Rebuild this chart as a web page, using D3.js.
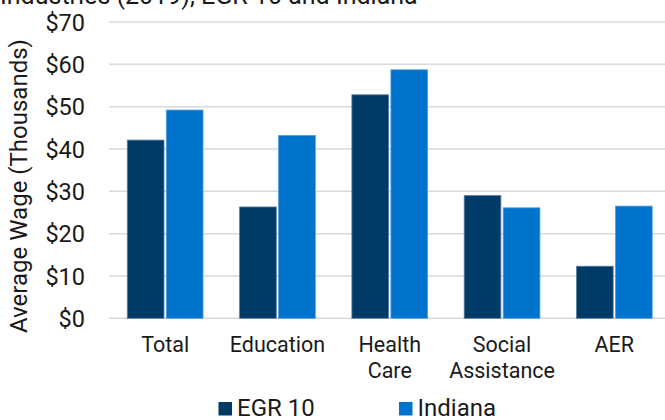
<!DOCTYPE html>
<html>
<head>
<meta charset="utf-8">
<script src="https://cdn.jsdelivr.net/npm/d3@7"></script>
<style>
  html, body { margin: 0; padding: 0; background: #fff; }
  svg { display: block; }
  text { font-family: Roboto, "Liberation Sans", sans-serif; fill: #1a1a1a; }
</style>
</head>
<body>
<svg id="chart" width="665" height="420"></svg>
<script>
// Average wage by industry, EGR 10 vs Indiana (thousands of dollars)
const categories = [["Total"], ["Education"], ["Health", "Care"], ["Social", "Assistance"], ["AER"]];
const seriesNames = ["EGR 10", "Indiana"];
const egr10 = [42.1, 26.3, 52.8, 29.0, 12.3];
const indiana = [49.2, 43.2, 58.7, 26.1, 26.5];
const yTicks = [0, 10, 20, 30, 40, 50, 60, 70];
const colors = ["#003A66", "#0074CC"];

const svg = d3.select("#chart");
const plot = { left: 109, right: 670.5, top: 22, bottom: 318.3 };

const keys = categories.map(c => c.join(" "));
const x0 = d3.scaleBand().domain(keys).range([plot.left, plot.right]).padding(0);
const groupW = 75.7;
const x1 = d3.scaleBand().domain(seriesNames)
  .range([(x0.bandwidth() - groupW) / 2, (x0.bandwidth() + groupW) / 2])
  .paddingInner(0.06);
const y = d3.scaleLinear().domain([0, 70]).range([plot.bottom, plot.top]);

// Title (second line of a wrapped heading)
svg.append("text")
  .attr("x", 0).attr("y", 4)
  .style("font-size", "25px")
  .text("Industries (2019), EGR 10 and Indiana");

// Gridlines
svg.append("g").selectAll("line").data(yTicks).join("line")
  .attr("x1", plot.left).attr("x2", plot.right)
  .attr("y1", d => y(d)).attr("y2", d => y(d))
  .attr("stroke", "#d9d9d9").attr("stroke-width", 1.5);

// Y axis labels
const yAxis = d3.axisLeft(y).tickValues(yTicks).tickFormat(d => "$" + d).tickSize(0).tickPadding(0);
const yg = svg.append("g").attr("transform", `translate(85,0)`).call(yAxis);
yg.select(".domain").remove();
yg.selectAll("text").style("font-size", "23.5px").attr("fill", "#1a1a1a").attr("dy", "0.35em");

// Y axis title
svg.append("text")
  .attr("transform", `translate(26.5,186) rotate(-90)`)
  .attr("text-anchor", "middle")
  .style("font-size", "24px")
  .text("Average Wage (Thousands)");

// Bars
const rows = keys.map((k, i) => ({ key: k, values: [egr10[i], indiana[i]] }));
const groups = svg.append("g").selectAll("g").data(rows).join("g")
  .attr("transform", d => `translate(${x0(d.key)},0)`);
groups.selectAll("rect").data(d => d.values.map((v, j) => ({ name: seriesNames[j], v, j })))
  .join("rect")
  .attr("x", d => x1(d.name))
  .attr("width", x1.bandwidth())
  .attr("y", d => y(d.v))
  .attr("height", d => y(0) - y(d.v))
  .attr("fill", d => colors[d.j])
  .attr("stroke", d => d.j === 0 ? "#5a7a99" : "#4a9be0")
  .attr("stroke-width", 0.8);

// Category labels
const xl = svg.append("g").selectAll("text").data(categories).join("text")
  .attr("x", (d, i) => x0(keys[i]) + x0.bandwidth() / 2)
  .attr("y", 351.7)
  .attr("text-anchor", "middle")
  .style("font-size", "21.5px");
xl.selectAll("tspan").data(d => d).join("tspan")
  .attr("x", function () { return this.parentNode.getAttribute("x"); })
  .attr("dy", (d, i) => i === 0 ? 0 : 26.6)
  .text(d => d);

// Legend
const legendPos = [218.5, 399];
const lg = svg.append("g").selectAll("g").data(seriesNames).join("g")
  .attr("transform", (d, i) => `translate(${legendPos[i]},0)`);
lg.append("rect").attr("x", 0).attr("y", 402).attr("width", 13.5).attr("height", 13.5)
  .attr("fill", (d, i) => colors[i]);
lg.append("text").attr("x", 18.5).attr("y", 415.5).style("font-size", "24px").text(d => d);
</script>
</body>
</html>
